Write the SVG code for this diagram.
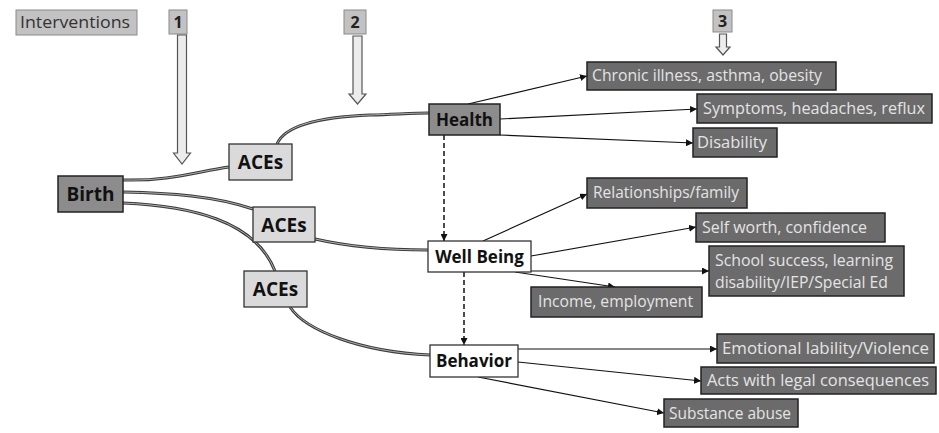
<svg xmlns="http://www.w3.org/2000/svg" width="939" height="433" viewBox="0 0 939 433">
<defs>
<marker id="ah" markerUnits="userSpaceOnUse" markerWidth="8" markerHeight="7" refX="7" refY="3.5" orient="auto">
<path d="M0,0 L7,3.5 L0,7 Z" fill="#111"/>
</marker>
</defs>
<style>
.hdr{fill:#c2c2c2;stroke:#8a8a8a;stroke-width:1}
.hdrt{font-family:"Open Sans","Liberation Sans",sans-serif;font-size:16px;fill:#333}
.num{font-family:"Open Sans","Liberation Sans",sans-serif;font-size:16px;font-weight:bold;fill:#222;text-anchor:middle}
.hollow{fill:#ececec;stroke:#555;stroke-width:1.2}
.mid{fill:#8c8c8c;stroke:#222;stroke-width:1.5}
.light{fill:#dadada;stroke:#333;stroke-width:1.3}
.white{fill:#fff;stroke:#333;stroke-width:1.3}
.dark{fill:#6b6b6b;stroke:#222;stroke-width:1.5}
.nt{font-family:"Open Sans","Liberation Sans",sans-serif;font-weight:bold;fill:#111;text-anchor:middle}
.ot{font-family:"Open Sans","Liberation Sans",sans-serif;font-size:16px;fill:#e4e4e4}
.curve{fill:none;stroke:#3a3a3a;stroke-width:3}
.curvein{fill:none;stroke:#b0b0b0;stroke-width:1}
.thin{fill:none;stroke:#111;stroke-width:1.2;marker-end:url(#ah)}
.dash{fill:none;stroke:#111;stroke-width:1.5;stroke-dasharray:5,3;marker-end:url(#ah)}
</style>
<rect width="939" height="433" fill="#fff"/>

<g id="header-interventions">
<rect class="hdr" x="16" y="10" width="121" height="25"/>
<text class="hdrt" x="20" y="28" textLength="110" lengthAdjust="spacingAndGlyphs">Interventions</text>
</g>
<g id="intervention-1">
<rect class="hdr" x="169" y="10" width="18" height="24"/>
<text class="num" x="178" y="28">1</text>
<polygon class="hollow" points="177.5,35 186.5,35 186.5,153 190.5,153 182,164 173.5,153 177.5,153"/>
</g>
<g id="intervention-2">
<rect class="hdr" x="344" y="10" width="22" height="24"/>
<text class="num" x="355" y="28">2</text>
<polygon class="hollow" points="353,36 362,36 362,94 366,94 357.5,104 349,94 353,94"/>
</g>
<g id="intervention-3">
<rect class="hdr" x="713" y="10" width="19" height="22"/>
<text class="num" x="722.5" y="27">3</text>
<polygon class="hollow" points="719.5,34 726.5,34 726.5,47 730,47 723,55 716,47 719.5,47"/>
</g>

<g id="connectors">
<path class="curve" d="M123,180 C170,181 195,172 229,167"/>
<path class="curvein" d="M123,180 C170,181 195,172 229,167"/>
<path class="curve" d="M277,144 C285,125 320,117 370,115 C400,114 415,113 429,113"/>
<path class="curvein" d="M277,144 C285,125 320,117 370,115 C400,114 415,113 429,113"/>
<path class="curve" d="M123,192 C170,193 215,196 253,209"/>
<path class="curvein" d="M123,192 C170,193 215,196 253,209"/>
<path class="curve" d="M315,239 C350,247 390,250 428,250"/>
<path class="curvein" d="M315,239 C350,247 390,250 428,250"/>
<path class="curve" d="M123,203 C190,206 255,220 275,271"/>
<path class="curvein" d="M123,203 C190,206 255,220 275,271"/>
<path class="curve" d="M290,307 C305,330 360,352 430,355"/>
<path class="curvein" d="M290,307 C305,330 360,352 430,355"/>
<path class="dash" d="M444,135 L444,241"/>
<path class="dash" d="M464,272 L464,345"/>
<path class="thin" d="M468,104 L587,76"/>
<path class="thin" d="M500,119 L697,109"/>
<path class="thin" d="M500,135 L693,143"/>
<path class="thin" d="M483,241 L587,194"/>
<path class="thin" d="M531,256 L696,227"/>
<path class="thin" d="M531,271 L709,271"/>
<path class="thin" d="M515,272 L615,287"/>
<path class="thin" d="M518,349 L717,349"/>
<path class="thin" d="M518,362 L701,381"/>
<path class="thin" d="M478,377 L664,413"/>
</g>

<g id="birth">
<rect class="mid" x="58" y="176" width="65" height="36"/>
<text class="nt" x="90.5" y="201" font-size="19">Birth</text>
</g>
<g id="aces-1">
<rect class="light" x="229" y="144" width="63" height="36"/>
<text class="nt" x="260.5" y="169" font-size="19">ACEs</text>
</g>
<g id="aces-2">
<rect class="light" x="253" y="207" width="62" height="35"/>
<text class="nt" x="284" y="232" font-size="19">ACEs</text>
</g>
<g id="aces-3">
<rect class="light" x="244" y="271" width="63" height="36"/>
<text class="nt" x="275.5" y="296" font-size="19">ACEs</text>
</g>
<g id="health">
<rect class="mid" x="429" y="104" width="71" height="31"/>
<text class="nt" x="464.5" y="126" font-size="17">Health</text>
</g>
<g id="well-being">
<rect class="white" x="428" y="241" width="103" height="31"/>
<text class="nt" x="479.5" y="263" font-size="17">Well Being</text>
</g>
<g id="behavior">
<rect class="white" x="430" y="345" width="88" height="32"/>
<text class="nt" x="474" y="367" font-size="17">Behavior</text>
</g>

<g id="chronic-illness">
<rect class="dark" x="587" y="62" width="249" height="28"/>
<text class="ot" x="592" y="81" textLength="230" lengthAdjust="spacingAndGlyphs">Chronic illness, asthma, obesity</text>
</g>
<g id="symptoms">
<rect class="dark" x="697" y="94" width="235" height="29"/>
<text class="ot" x="703" y="114" textLength="222" lengthAdjust="spacingAndGlyphs">Symptoms, headaches, reflux</text>
</g>
<g id="disability">
<rect class="dark" x="693" y="128" width="84" height="29"/>
<text class="ot" x="697" y="148" textLength="70" lengthAdjust="spacingAndGlyphs">Disability</text>
</g>
<g id="relationships">
<rect class="dark" x="587" y="178" width="160" height="30"/>
<text class="ot" x="593" y="198" textLength="146" lengthAdjust="spacingAndGlyphs">Relationships/family</text>
</g>
<g id="self-worth">
<rect class="dark" x="696" y="213" width="189" height="29"/>
<text class="ot" x="702" y="233" textLength="165" lengthAdjust="spacingAndGlyphs">Self worth, confidence</text>
</g>
<g id="school">
<rect class="dark" x="709" y="246" width="195" height="50"/>
<text class="ot" x="715" y="266" textLength="178" lengthAdjust="spacingAndGlyphs">School success, learning</text>
<text class="ot" x="715" y="288" textLength="173" lengthAdjust="spacingAndGlyphs">disability/IEP/Special Ed</text>
</g>
<g id="income">
<rect class="dark" x="531" y="287" width="171" height="30"/>
<text class="ot" x="538" y="307" textLength="155" lengthAdjust="spacingAndGlyphs">Income, employment</text>
</g>
<g id="emotional">
<rect class="dark" x="717" y="334" width="217" height="29"/>
<text class="ot" x="722" y="354" textLength="207" lengthAdjust="spacingAndGlyphs">Emotional lability/Violence</text>
</g>
<g id="acts">
<rect class="dark" x="701" y="367" width="235" height="27"/>
<text class="ot" x="707" y="386" textLength="222" lengthAdjust="spacingAndGlyphs">Acts with legal consequences</text>
</g>
<g id="substance">
<rect class="dark" x="664" y="399" width="134" height="28"/>
<text class="ot" x="669" y="419" textLength="122" lengthAdjust="spacingAndGlyphs">Substance abuse</text>
</g>
</svg>
